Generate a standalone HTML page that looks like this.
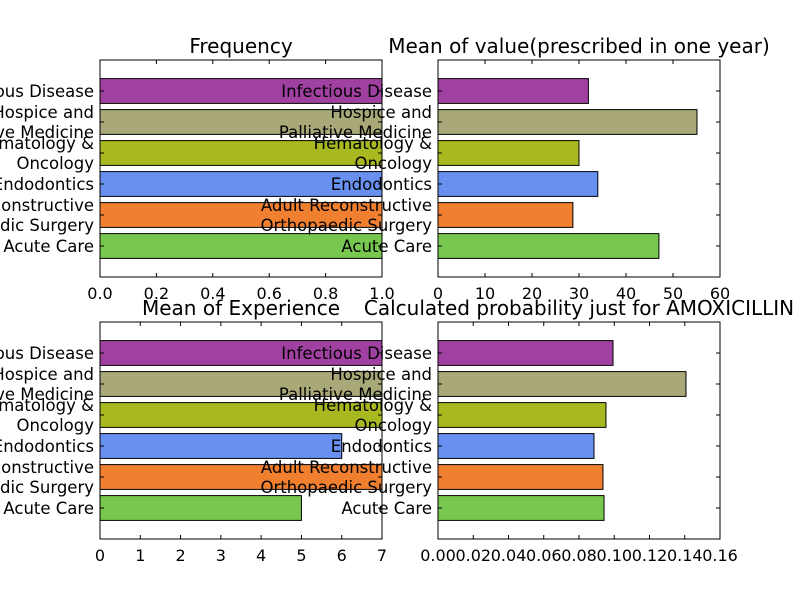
<!DOCTYPE html>
<html><head><meta charset="utf-8"><style>
body{margin:0;background:#fff;}
svg{display:block;font-family:"DejaVu Sans","Liberation Sans",sans-serif;}
</style></head><body>
<svg id="c" width="800" height="600" xmlns="http://www.w3.org/2000/svg"></svg>
<script>
const categories = ["Acute Care","Adult Reconstructive\nOrthopaedic Surgery","Endodontics","Hematology &\nOncology","Hospice and\nPalliative Medicine","Infectious Disease"];
const colors = ["#78C850","#F08030","#6890F0","#A8B820","#A8A878","#A040A0"];
const frequencyValues = [1,1,1,1,1,1];
const meanValueValues = [47,28.7,34,30,55.1,32];
const experienceValues = [5,7,6,7,7,7];
const probabilityValues = [0.0942,0.0936,0.0885,0.0953,0.1407,0.0993];
const freqTicks = ["0.0","0.2","0.4","0.6","0.8","1.0"];
const valueTicks = ["0","10","20","30","40","50","60"];
const expTicks = ["0","1","2","3","4","5","6","7"];
const probTicks = ["0.00","0.02","0.04","0.06","0.08","0.10","0.12","0.14","0.16"];

const svg = document.getElementById('c');
const NS = "http://www.w3.org/2000/svg";
function mk(tag, attrs, parent){const e=document.createElementNS(NS,tag);for(const k in attrs)e.setAttribute(k,attrs[k]);(parent||svg).appendChild(e);return e;}

const panels = [
 {name:"frequency",title:"Frequency",x0:100,y0:60,vals:frequencyValues,ticks:freqTicks,max:1},
 {name:"mean-value",title:"Mean of value(prescribed in one year)",x0:438,y0:60,vals:meanValueValues,ticks:valueTicks,max:60},
 {name:"mean-experience",title:"Mean of Experience",x0:100,y0:322,vals:experienceValues,ticks:expTicks,max:7},
 {name:"amoxicillin-probability",title:"Calculated probability just for AMOXICILLIN",x0:438,y0:322,vals:probabilityValues,ticks:probTicks,max:0.16}
];
const W=282,H=217,yMin=-0.6,yMax=6.4;
panels.forEach(p=>{
  const g=mk('g',{});
  
  
  const xs=v=>p.x0+v/p.max*W;
  const ys=v=>p.y0+H-(v-yMin)/(yMax-yMin)*H;
  const uh=H/(yMax-yMin);
  p.vals.forEach((v,i)=>{
    const r=mk('rect',{x:xs(0),y:ys(i+0.8),width:xs(v)-xs(0),height:0.8*uh,fill:colors[i],stroke:"#000","stroke-width":1},g);
    
    
    const lines=categories[i].split("\n");
    const cy=ys(i+0.4);
    const t=mk('text',{x:p.x0-6,"text-anchor":"end","font-size":16.5},g);
    
    
    lines.forEach((l,j)=>{const s=mk('tspan',{x:p.x0-6,y:cy+6+(j-(lines.length-1)/2)*20},t);s.textContent=l;});
    mk('line',{x1:p.x0,x2:p.x0+4,y1:cy,y2:cy,stroke:"#000"},g);
    mk('line',{x1:p.x0+W,x2:p.x0+W-4,y1:cy,y2:cy,stroke:"#000"},g);
  });
  mk('rect',{x:p.x0,y:p.y0,width:W,height:H,fill:"none",stroke:"#000","stroke-width":1},g);
  p.ticks.forEach((tl,k)=>{
    const x=xs(k*p.max/(p.ticks.length-1));
    mk('line',{x1:x,x2:x,y1:p.y0+H,y2:p.y0+H-4,stroke:"#000"},g);
    mk('line',{x1:x,x2:x,y1:p.y0,y2:p.y0+4,stroke:"#000"},g);
    const t=mk('text',{x:x,y:p.y0+H+22,"text-anchor":"middle","font-size":16},g);
    
    
    t.textContent=tl;
  });
  const tt=mk('text',{x:p.x0+W/2,y:p.y0-7,"text-anchor":"middle","font-size":20},g);
  
  
  tt.textContent=p.title;
});
</script>
</body></html>
